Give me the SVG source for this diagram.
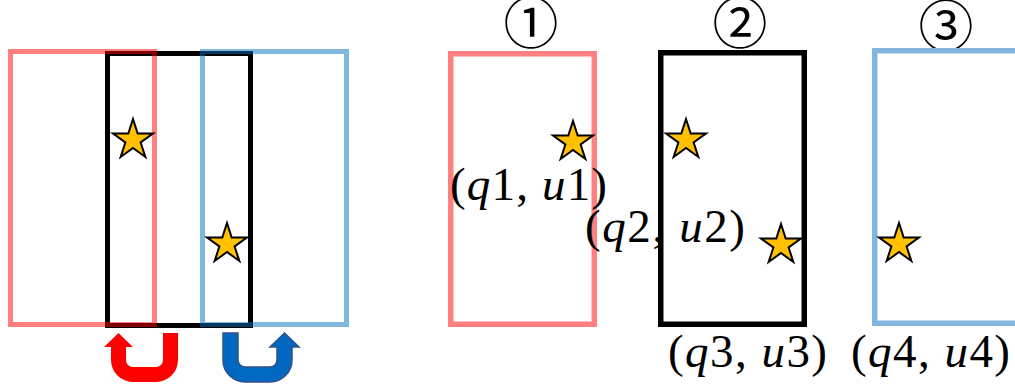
<svg xmlns="http://www.w3.org/2000/svg" width="1015" height="387" viewBox="0 0 1015 387">
<style>
.red{fill:none;stroke:#FF0000;stroke-opacity:0.5;stroke-width:5}
.blk{fill:none;stroke:#000000;stroke-width:5}
.blu{fill:none;stroke:#0070C0;stroke-opacity:0.5;stroke-width:5}
.pred{fill:none;stroke:#FF8080;stroke-width:5.5}
.pblk{fill:none;stroke:#000000;stroke-width:5.5}
.pblu{fill:none;stroke:#80B6E0;stroke-width:5.5}
.star{fill:#FFC000;stroke:#000000;stroke-width:2;stroke-linejoin:miter}
.lbl{font-family:"Liberation Serif","Times New Roman",serif;font-size:47px;fill:#000}
.lbl .v{font-style:italic}
.num{font-family:"Noto Sans CJK JP","DejaVu Sans",sans-serif;font-size:55px;fill:#000;text-anchor:middle}
</style>
<defs>
<path id="st" class="star" d="M0,-21 L4.71,-6.49 L19.97,-6.49 L7.63,2.48 L12.34,16.99 L0,8.02 L-12.34,16.99 L-7.63,2.48 L-19.97,-6.49 L-4.71,-6.49 Z"/>
</defs>
<rect width="1015" height="387" fill="#FFFFFF"/>

<g id="overlap">
  <g id="win-black-left"><rect class="blk" x="107.5" y="53.5" width="143" height="272"/></g>
  <g id="win-red-left"><rect class="red" x="10.5" y="51.5" width="144" height="273"/></g>
  <g id="win-blue-left"><rect class="blu" x="202.5" y="51.5" width="144" height="273"/></g>
  <g id="star-left-1"><use href="#st" x="133" y="140"/></g>
  <g id="star-left-2"><use href="#st" x="227" y="244"/></g>
</g>

<g id="arrows">
  <path fill="#FF0000" d="M178,333 L178,360 A22,22 0 0 1 156,382 L133,382 A22,22 0 0 1 111,360 L111,347 L104,347 L118.5,333 L133,347 L126,347 L126,360 A7,7 0 0 0 133,367 L156,367 A7,7 0 0 0 163,360 L163,333 Z"/>
  <path fill="#0068C0" stroke="#2F528F" stroke-width="1.5" d="M223,333 L223,360 A22,22 0 0 0 245,382 L270,382 A22,22 0 0 0 292,360 L292,347 L299,347 L284.5,333 L270,347 L277,347 L277,360 A7,7 0 0 1 270,367 L245,367 A7,7 0 0 1 238,360 L238,333 Z"/>
</g>

<g id="panel-1">
  <text class="num" x="531" y="43">①</text>
  <rect class="pred" x="450.75" y="53.75" width="143.5" height="270.5"/>
  <use href="#st" x="573" y="142"/>
  <text class="lbl" x="450" y="200" textLength="157" lengthAdjust="spacing">(<tspan class="v">q</tspan>1, <tspan class="v">u</tspan>1)</text>
</g>

<g id="panel-2">
  <text class="num" x="740" y="43">②</text>
  <rect class="pblk" x="660.75" y="52.75" width="143.5" height="271.5"/>
  <use href="#st" x="686" y="140"/>
  <use href="#st" x="781" y="245"/>
  <text class="lbl" x="585" y="242" textLength="160" lengthAdjust="spacing">(<tspan class="v">q</tspan>2, <tspan class="v">u</tspan>2)</text>
  <text class="lbl" x="668" y="367" textLength="159" lengthAdjust="spacing">(<tspan class="v">q</tspan>3, <tspan class="v">u</tspan>3)</text>
</g>

<g id="panel-3">
  <text class="num" x="946" y="46">③</text>
  <rect class="pblu" x="874.75" y="50.75" width="150" height="272.5"/>
  <use href="#st" x="899" y="244"/>
  <text class="lbl" x="851" y="367" textLength="159" lengthAdjust="spacing">(<tspan class="v">q</tspan>4, <tspan class="v">u</tspan>4)</text>
</g>
</svg>
